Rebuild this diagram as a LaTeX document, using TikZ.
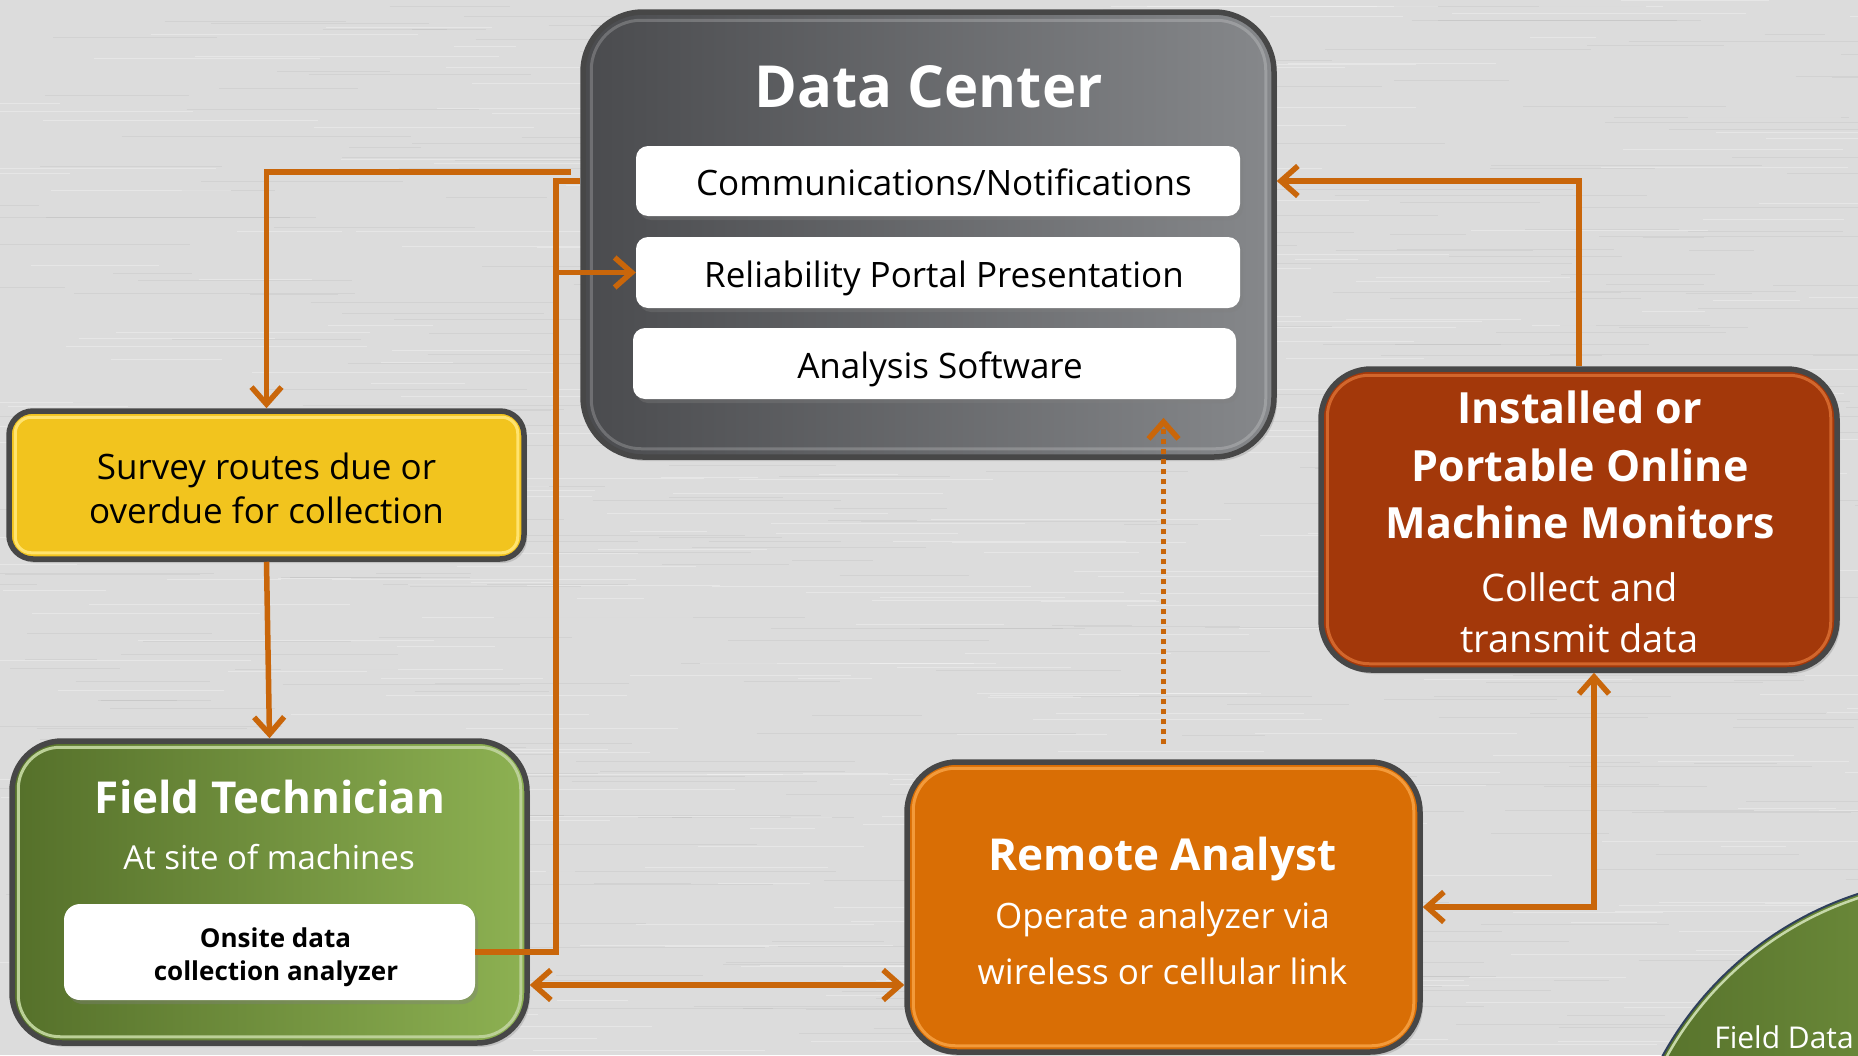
\documentclass[tikz,border=0pt]{standalone}
\usepackage{fontspec}
\setmainfont{Open Sans}
\usetikzlibrary{arrows.meta,shadows}
\definecolor{bg}{HTML}{DCDCDC}
\definecolor{conn}{HTML}{C9660A}
\definecolor{dcL}{HTML}{4A4B4E}
\definecolor{dcR}{HTML}{86888B}
\definecolor{yel}{HTML}{F2C41E}
\definecolor{yelrim}{HTML}{FFE36E}
\definecolor{grL}{HTML}{55702A}
\definecolor{grR}{HTML}{8DB152}
\definecolor{org}{HTML}{D96E05}
\definecolor{orgrim}{HTML}{F39A3A}
\definecolor{rust}{HTML}{A3380A}
\definecolor{rustrim}{HTML}{D2662C}
\definecolor{frame}{HTML}{474747}
\definecolor{fdedge}{HTML}{2E3F5C}
\newcommand\myfs[1]{\fontsize{#1}{#1}\selectfont}
\tikzset{
  panel/.style={rectangle, draw=frame, line width=5.5pt, inner sep=0pt,
    drop shadow={shadow xshift=3pt, shadow yshift=-4pt, opacity=0.3}},
  wbox/.style={rectangle, fill=white, rounded corners=12pt, inner sep=0pt,
    drop shadow={shadow xshift=3pt, shadow yshift=-4pt, opacity=0.35}},
  rim/.style={line width=3pt},
  txt/.style={anchor=base, inner sep=0pt},
  conn/.style={draw=conn, line width=5.5pt},
  tip/.style={-{Straight Barb[length=17pt,width=30pt]}},
  tips/.style={{Straight Barb[length=17pt,width=30pt]}-{Straight Barb[length=17pt,width=30pt]}},
  dots/.style={dash pattern=on 5pt off 5pt}
}
\begin{document}
\begin{tikzpicture}[x=1pt,y=-1pt]
\useasboundingbox (0,0) rectangle (1858,1055);
\clip (0,0) rectangle (1858,1055);
\fill[bg] (0,0) rectangle (1858,1055);
% brushed texture
\pgfmathsetseed{11}
\foreach \i in {1,...,700}{
  \pgfmathsetmacro{\yy}{rnd*1055}
  \pgfmathsetmacro{\xx}{rnd*1900-40}
  \pgfmathsetmacro{\ll}{60+rnd*260}
  \ifodd\i
    \draw[white, opacity=0.3, line width=1pt] (\xx,\yy) -- ++(\ll,0);
  \else
    \draw[gray, opacity=0.1, line width=1pt] (\xx,\yy) -- ++(\ll,0);
  \fi
}

% Field Data circle (bottom right)
\node[circle, minimum size=690pt, inner sep=0pt, left color=grL, right color=grR, draw=fdedge, line width=2pt] (fdc) at (1965,1222) {};
\draw[grR!50!white, line width=2.5pt] (fdc.center) circle (341pt);
\node[txt, text=white, font=\myfs{30}] (fdt) at (1784,1048) {Field Data};

% Data Center
\node[panel, rounded corners=60pt, minimum width=691pt, minimum height=445pt, left color=dcL, right color=dcR] (dc) at (928.5,234.5) {};
\draw[rim, white, opacity=0.2, rounded corners=50pt] ([shift={(11pt,-11pt)}]dc.north west) rectangle ([shift={(-11pt,11pt)}]dc.south east);
\node[txt, text=white, font=\bfseries\myfs{58}] (dct) at (928.5,107) {Data Center};
\node[wbox, minimum width=604pt, minimum height=70pt] (comm) at (938,181) {};
\node[wbox, minimum width=604pt, minimum height=71pt] (rel) at (938,272.5) {};
\node[wbox, minimum width=603pt, minimum height=71pt] (ana) at (934.5,363.5) {};
\node[txt, font=\myfs{35}] (commt) at (944,195) {Communications/Notifications};
\node[txt, font=\myfs{35}] (relt) at (944,287) {Reliability Portal Presentation};
\node[txt, font=\myfs{35}] (anat) at (940,378) {Analysis Software};

% Survey routes
\node[panel, rounded corners=24pt, minimum width=515pt, minimum height=148pt, fill=yel] (sv) at (266.5,485) {};
\draw[rim, yelrim, rounded corners=16pt] ([shift={(9pt,-9pt)}]sv.north west) rectangle ([shift={(-9pt,9pt)}]sv.south east);
\node[txt, font=\myfs{35}] (svt1) at (266.5,479) {Survey routes due or};
\node[txt, font=\myfs{35}] (svt2) at (266.5,523) {overdue for collection};

% Field Technician
\node[panel, rounded corners=50pt, minimum width=515pt, minimum height=302pt, left color=grL, right color=grR] (ft) at (269.5,892) {};
\draw[rim, grR!60!white, rounded corners=42pt] ([shift={(9pt,-9pt)}]ft.north west) rectangle ([shift={(-9pt,9pt)}]ft.south east);
\node[txt, text=white, font=\bfseries\myfs{44}] (ftt) at (270,813) {Field Technician};
\node[txt, text=white, font=\myfs{33}] (fts) at (269,869) {At site of machines};
\node[wbox, minimum width=411pt, minimum height=96pt, rounded corners=16pt] (os) at (269.5,952) {};
\node[txt, font=\bfseries\myfs{26}] (ost1) at (275.5,947) {Onsite data};
\node[txt, font=\bfseries\myfs{26}] (ost2) at (276,980) {collection analyzer};

% Remote Analyst
\node[panel, rounded corners=50pt, minimum width=513pt, minimum height=290pt, fill=org] (rm) at (1163.5,907) {};
\draw[rim, orgrim, rounded corners=42pt] ([shift={(9pt,-9pt)}]rm.north west) rectangle ([shift={(-9pt,9pt)}]rm.south east);
\node[txt, text=white, font=\bfseries\myfs{44}] (rmt) at (1162.5,870) {Remote Analyst};
\node[txt, text=white, font=\myfs{35}] (rms1) at (1162.5,928) {Operate analyzer via};
\node[txt, text=white, font=\myfs{35}] (rms2) at (1162.5,984) {wireless or cellular link};

% Installed monitors
\node[panel, rounded corners=50pt, minimum width=516pt, minimum height=301pt, fill=rust] (in) at (1579,519.5) {};
\draw[rim, rustrim, rounded corners=42pt] ([shift={(9pt,-9pt)}]in.north west) rectangle ([shift={(-9pt,9pt)}]in.south east);
\node[txt, text=white, font=\bfseries\myfs{43}] (int1) at (1579.5,423) {Installed or};
\node[txt, text=white, font=\bfseries\myfs{43}] (int2) at (1580,481) {Portable Online};
\node[txt, text=white, font=\bfseries\myfs{43}] (int3) at (1580.5,538) {Machine Monitors};
\node[txt, text=white, font=\myfs{38}] (ins1) at (1579.5,601) {Collect and};
\node[txt, text=white, font=\myfs{38}] (ins2) at (1579.5,652) {transmit data};

% Connectors
\coordinate (c1s) at (571,172);
\coordinate (vbus) at (556,181);
\draw[conn, tip] (c1s) -| (sv.north);
\draw[conn, tip] (sv.south) -- (ft.north);
\draw[conn] (os.east) -| (vbus) -- (dc.west |- vbus);
\draw[conn, tip] (vbus |- rel) -- (rel.west);
\draw[conn, tips] ([yshift=-93pt]ft.east) -- ([yshift=-93pt]ft.east -| rm.west);
\draw[conn, tips] (rm.east) -| ([xshift=15pt]in.south);
\draw[conn, tip] (in.north) |- (dc.east |- comm);
\draw[conn, dots, tip] ([yshift=15pt]rm.north) -- ([yshift=42pt]dc.south -| rm.north);
\end{tikzpicture}
\end{document}
